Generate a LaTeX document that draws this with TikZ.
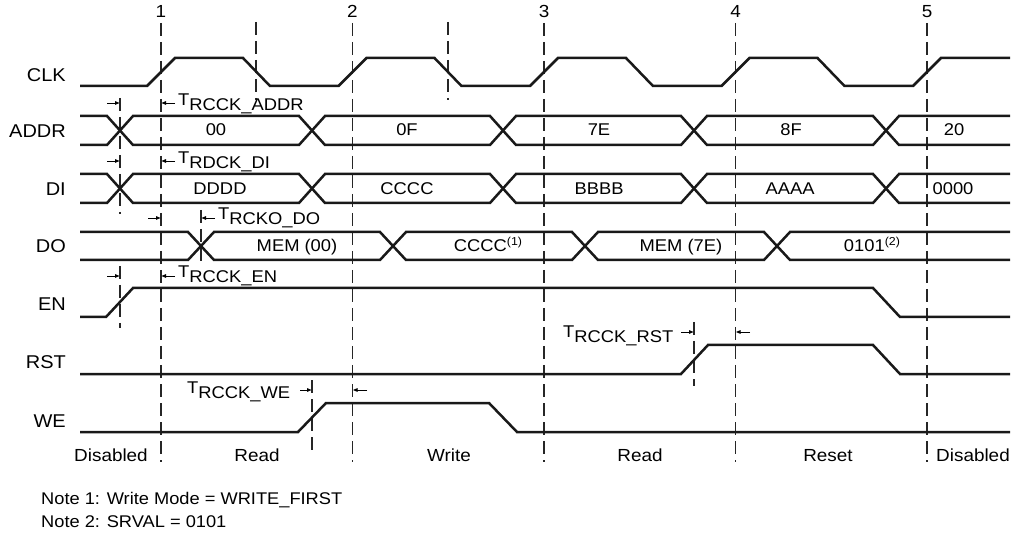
\documentclass[tikz,border=0pt]{standalone}
\usepackage{fontspec}
\setmainfont[FakeStretch=1.08]{Liberation Sans}
\usetikzlibrary{arrows.meta}
\newcommand{\tsub}[1]{\raisebox{5pt}{T}#1}
\begin{document}
\begin{tikzpicture}[x=1pt,y=-1pt,
  sig/.style={line width=2.5pt, line join=miter, line cap=butt, color=black!90},
  dsh/.style={line width=1.1pt, dash pattern=on 13pt off 6pt, color=black!85},
  tarr/.style={line width=0.9pt, -{Triangle[length=4.5pt,width=3.6pt]}},
  lbl/.style={inner sep=0pt, font=\fontsize{18.5}{22}\selectfont},
  phs/.style={inner sep=0pt, anchor=base, font=\fontsize{17.5}{21}\selectfont},
  dat/.style={inner sep=0pt, anchor=base, font=\fontsize{17}{20}\selectfont},
  tim/.style={inner sep=0pt, anchor=base west, font=\fontsize{17}{20}\selectfont},
  nte/.style={inner sep=0pt, anchor=base west, font=\fontsize{16.9}{20}\selectfont},
]
\useasboundingbox (0,0) rectangle (1015,537);

% clock edge reference lines
\foreach \x/\n in {161/1,352.5/2,544/3,735.5/4,927/5}{
  \node[phs] (num\n) at (\x,18) {\n};
  \draw[dsh] (\x,23) -- (\x,462);
}
% falling edge marks
\draw[dsh] (256,22) -- (256,100);
\draw[dsh] (448,22) -- (448,100);
% timing ticks
\draw[dsh] (120,98) -- (120,214);
\draw[dsh] (120,266) -- (120,328);
\draw[dsh] (201,210) -- (201,266);
\draw[dsh] (694,322) -- (694,386);
\draw[dsh] (312,380) -- (312,450);

% signal names
\node[lbl, anchor=base east] (nclk) at (66,82) {CLK};
\node[lbl, anchor=base east] (naddr) at (66,138) {ADDR};
\node[lbl, anchor=base east] (ndi) at (66,196) {DI};
\node[lbl, anchor=base east] (ndo) at (66,253) {DO};
\node[lbl, anchor=base east] (nen) at (66,311) {EN};
\node[lbl, anchor=base east] (nrst) at (66,368) {RST};
\node[lbl, anchor=base east] (nwe) at (66,427) {WE};

% CLK
\draw[sig] (80,86) -- (147,86) -- (175,58) -- (243,58) -- (270,86)
  -- (338.5,86) -- (366.5,58) -- (434.5,58) -- (461.5,86)
  -- (530,86) -- (558,58) -- (626,58) -- (653,86)
  -- (721.5,86) -- (749.5,58) -- (817.5,58) -- (844.5,86)
  -- (913,86) -- (941,58) -- (1010,58);

% ADDR bus
\draw[sig] (80,116) -- (107,116) -- (133,145) -- (299,145) -- (325,116) -- (490,116) -- (516,145) -- (681,145) -- (707,116) -- (873,116) -- (899,145) -- (1010,145);
\draw[sig] (80,145) -- (107,145) -- (133,116) -- (299,116) -- (325,145) -- (490,145) -- (516,116) -- (681,116) -- (707,145) -- (873,145) -- (899,116) -- (1010,116);
% DI bus
\draw[sig] (80,174) -- (107,174) -- (133,203) -- (299,203) -- (325,174) -- (490,174) -- (516,203) -- (681,203) -- (707,174) -- (873,174) -- (899,203) -- (1010,203);
\draw[sig] (80,203) -- (107,203) -- (133,174) -- (299,174) -- (325,203) -- (490,203) -- (516,174) -- (681,174) -- (707,203) -- (873,203) -- (899,174) -- (1010,174);
% DO bus
\draw[sig] (80,232) -- (188,232) -- (214,260) -- (380,260) -- (406,232) -- (572,232) -- (598,260) -- (764,260) -- (790,232) -- (1010,232);
\draw[sig] (80,260) -- (188,260) -- (214,232) -- (380,232) -- (406,260) -- (572,260) -- (598,232) -- (764,232) -- (790,260) -- (1010,260);
% EN, RST, WE
\draw[sig] (80,317) -- (106,317) -- (133,288) -- (873,288) -- (900,317) -- (1010,317);
\draw[sig] (80,374) -- (681,374) -- (708,345) -- (873,345) -- (900,374) -- (1010,374);
\draw[sig] (80,432) -- (298,432) -- (326,403) -- (489,403) -- (517,432) -- (1010,432);

% bus values
\node[dat] (a1) at (216,136) {00};
\node[dat] (a2) at (407,136) {0F};
\node[dat] (a3) at (599,136) {7E};
\node[dat] (a4) at (791,136) {8F};
\node[dat] (a5) at (954,136) {20};
\node[dat] (d1) at (220,195) {DDDD};
\node[dat] (d2) at (407,195) {CCCC};
\node[dat] (d3) at (599,195) {BBBB};
\node[dat] (d4) at (790,195) {AAAA};
\node[dat] (d5) at (953,195) {0000};
\node[dat] (o1) at (297,252) {MEM (00)};
\node[dat] (o2) at (488,252) {CCCC\raisebox{6pt}{\fontsize{11.5}{12}\selectfont(1)}};
\node[dat] (o3) at (681,252) {MEM (7E)};
\node[dat] (o4) at (872,252) {0101\raisebox{6pt}{\fontsize{11.5}{12}\selectfont(2)}};

% timing arrows and labels
\draw[tarr] (107,103) -- (119.5,103);
\draw[tarr] (175,103) -- (161.5,103);
\node[tim] (tad) at (178,111) {\tsub{RCCK\_ADDR}};
\draw[tarr] (107,161) -- (119.5,161);
\draw[tarr] (175,161) -- (161.5,161);
\node[tim] (tdi) at (178,169) {\tsub{RDCK\_DI}};
\draw[tarr] (148,218) -- (160.5,218);
\draw[tarr] (215,218) -- (201.5,218);
\node[tim] (tdo) at (218,225) {\tsub{RCKO\_DO}};
\draw[tarr] (107,276) -- (119.5,276);
\draw[tarr] (175,276) -- (161.5,276);
\node[tim] (ten) at (178,283) {\tsub{RCCK\_EN}};
\node[tim] (trst) at (563,342) {\tsub{RCCK\_RST}};
\draw[tarr] (681,332) -- (693.5,332);
\draw[tarr] (750,332) -- (736,332);
\node[tim] (twe) at (187,398) {\tsub{RCCK\_WE}};
\draw[tarr] (300,390) -- (311.5,390);
\draw[tarr] (367,390) -- (353,390);

% phase labels
\node[phs] (p1) at (111,461) {Disabled};
\node[phs] (p2) at (257,461) {Read};
\node[phs] (p3) at (449,461) {Write};
\node[phs] (p4) at (640,461) {Read};
\node[phs] (p5) at (828,461) {Reset};
\node[phs] (p6) at (973,461) {Disabled};

% notes
\node[nte] (note1) at (41,504) {Note 1: Write Mode = WRITE\_FIRST};
\node[nte] (note2) at (41,527) {Note 2: SRVAL = 0101};
\end{tikzpicture}
\end{document}
